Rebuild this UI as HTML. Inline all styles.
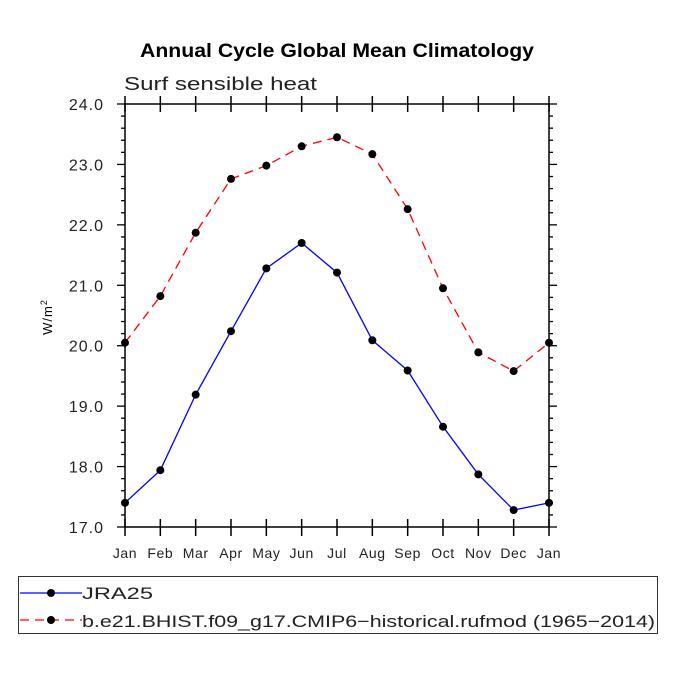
<!DOCTYPE html>
<html><head><meta charset="utf-8"><style>
body{margin:0;background:#fff;font-family:"Liberation Sans",sans-serif}
</style></head><body>
<svg id="c" width="675" height="675" xmlns="http://www.w3.org/2000/svg" font-family="Liberation Sans, sans-serif">
<rect width="675" height="675" fill="#fff"/>
<text x="140" y="57" font-size="19" font-weight="bold" textLength="394" lengthAdjust="spacingAndGlyphs">Annual Cycle Global Mean Climatology</text>
<text x="124" y="90" font-size="18" fill="#222" textLength="193" lengthAdjust="spacingAndGlyphs">Surf sensible heat</text>
<text transform="translate(52,317) rotate(-90)" text-anchor="middle" font-size="13" letter-spacing="1">W/m<tspan dy="-5" font-size="9">2</tspan></text>
<g id="axes"></g>
<g id="series"></g>
<g>
<rect x="18.5" y="576.5" width="639" height="57" fill="none" stroke="#333" stroke-width="1"/>
<g>
<line x1="20" y1="593" x2="82" y2="593" stroke="#00f" stroke-width="1.3"/>
<circle cx="51" cy="593" r="4" fill="#000"/>
<text x="82" y="599" font-size="17" fill="#222" textLength="71" lengthAdjust="spacingAndGlyphs">JRA25</text></g>
<g>
<line x1="20" y1="620" x2="82" y2="620" stroke="#f00" stroke-width="1.3" stroke-dasharray="9,6"/>
<circle cx="51" cy="620" r="4" fill="#000"/>
<text x="82" y="627" font-size="17" fill="#222" textLength="573" lengthAdjust="spacingAndGlyphs">b.e21.BHIST.f09_g17.CMIP6−historical.rufmod (1965−2014)</text></g>
</g>
</svg>
<script>
const months=["Jan","Feb","Mar","Apr","May","Jun","Jul","Aug","Sep","Oct","Nov","Dec","Jan"];
const jra25=[17.40,17.94,19.19,20.24,21.28,21.70,21.21,20.09,19.59,18.66,17.87,17.28,17.40];
const cmip6=[20.05,20.82,21.87,22.76,22.98,23.30,23.45,23.17,22.26,20.95,19.89,19.58,20.05];
const yTicks=[17,18,19,20,21,22,23,24];
const X0=125,X1=549,Y0=527,Y1=104,YMIN=17,YMAX=24;
const xs=i=>X0+(X1-X0)*i/(months.length-1);
const ys=v=>Y0-(Y0-Y1)*(v-YMIN)/(YMAX-YMIN);
const NS="http://www.w3.org/2000/svg";
function mk(t,a,p){const e=document.createElementNS(NS,t);for(const k in a)e.setAttribute(k,a[k]);p.appendChild(e);return e;}
const ax=document.getElementById('axes');
const frame=mk('rect',{x:X0,y:Y1,width:X1-X0,height:Y0-Y1,fill:'none',stroke:'#000','stroke-width':1.5},ax);


months.forEach((m,i)=>{const x=xs(i);
mk('line',{x1:x,y1:Y0-8,x2:x,y2:Y0+9,stroke:'#000','stroke-width':1.5},ax);
mk('line',{x1:x,y1:Y1-8,x2:x,y2:Y1+8,stroke:'#000','stroke-width':1.5},ax);
const t=mk('text',{x:x,y:Y0+31,'text-anchor':'middle','font-size':14,'letter-spacing':0.6,fill:'#222'},ax);t.textContent=m;

});
for(let v=YMIN;v<=YMAX+1e-9;v+=0.2){const y=ys(v);const maj=Math.abs(v-Math.round(v))<1e-6;const L=maj?8:4;
mk('line',{x1:X0-L,y1:y,x2:X0,y2:y,stroke:'#000','stroke-width':1.3},ax);
mk('line',{x1:X1,y1:y,x2:X1+L,y2:y,stroke:'#000','stroke-width':1.3},ax);}
yTicks.forEach(v=>{const t=mk('text',{x:X0-21,y:ys(v)+6,'text-anchor':'end','font-size':16,'letter-spacing':1,fill:'#222'},ax);t.textContent=v.toFixed(1);

});
const sg=document.getElementById('series');
function series(d,col,dash,name){const g=mk('g',{},sg);


const a={points:d.map((v,i)=>xs(i)+','+ys(v)).join(' '),fill:'none',stroke:col,'stroke-width':1.3};if(dash)a['stroke-dasharray']=dash;mk('polyline',a,g);
d.forEach((v,i)=>{const c=mk('circle',{cx:xs(i),cy:ys(v),r:4,fill:'#000'},g);

});}
series(jra25,'#00f',null,'series-jra25');
series(cmip6,'#f00','9,6','series-cmip6');
</script>
</body></html>
